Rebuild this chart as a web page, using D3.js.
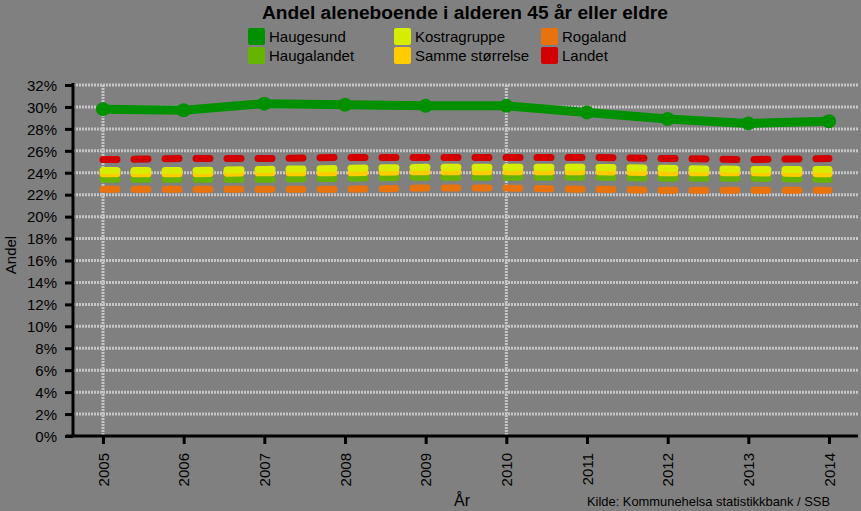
<!DOCTYPE html>
<html><head><meta charset="utf-8">
<script src="https://cdn.jsdelivr.net/npm/d3@7"></script>
<style>
html,body{margin:0;padding:0;background:#808080;}
svg text{font-family:Arial,"Liberation Sans",sans-serif;fill:#000;}
</style></head>
<body>
<svg id="chart" width="861" height="511"></svg>
<script>
const years = [2005,2006,2007,2008,2009,2010,2011,2012,2013,2014];
const haugesund   = [29.8,29.7,30.3,30.2,30.1,30.1,29.5,28.9,28.5,28.7];
const haugalandet = [23.4,23.4,23.4,23.5,23.6,23.6,23.6,23.5,23.5,23.4];
const kostragruppe= [24.2,24.2,24.3,24.4,24.5,24.5,24.5,24.4,24.3,24.3];
const sammeStr    = [23.9,23.9,24.0,24.0,24.1,24.1,24.1,24.0,24.0,23.9];
const rogaland    = [22.5,22.5,22.5,22.5,22.6,22.6,22.5,22.4,22.4,22.4];
const landet      = [25.2,25.3,25.3,25.4,25.4,25.4,25.4,25.3,25.2,25.3];
const yTicks = [0,2,4,6,8,10,12,14,16,18,20,22,24,26,28,30,32];

const series = [
  {name:"Haugesund", values:haugesund, color:"#009000", solid:true},
  {name:"Haugalandet", values:haugalandet, color:"#66b300"},
  {name:"Rogaland", values:rogaland, color:"#e8720c"},
  {name:"Samme størrelse", values:sammeStr, color:"#ffcc00"},
  {name:"Kostragruppe", values:kostragruppe, color:"#d6ec00"},
  {name:"Landet", values:landet, color:"#d20000"}
];
const legendOrder = [
  {name:"Haugesund", color:"#009000", col:0,row:0},
  {name:"Haugalandet", color:"#66b300", col:0,row:1},
  {name:"Kostragruppe", color:"#d6ec00", col:1,row:0},
  {name:"Samme størrelse", color:"#ffcc00", col:1,row:1},
  {name:"Rogaland", color:"#e8720c", col:2,row:0},
  {name:"Landet", color:"#d20000", col:2,row:1}
];

const svg = d3.select("#chart");
const plot = {left:73, right:858, top:85, bottom:436};

const x = d3.scalePoint().domain(years).range([103,829]);
const y = d3.scaleLinear().domain([0,32]).range([plot.bottom, plot.top]);

// gridlines
const gridColor = "#c6c6c6";
svg.append("g").selectAll("line").data(yTicks.filter(d=>d>0)).join("line")
  .attr("x1",plot.left).attr("x2",plot.right)
  .attr("y1",d=>y(d)).attr("y2",d=>y(d))
  .attr("stroke",gridColor).attr("stroke-width",3).attr("stroke-dasharray","2,1");
svg.append("g").selectAll("line").data([2005,2010]).join("line")
  .attr("x1",d=>x(d)).attr("x2",d=>x(d))
  .attr("y1",plot.top).attr("y2",plot.bottom)
  .attr("stroke",gridColor).attr("stroke-width",3).attr("stroke-dasharray","2,1");

// axes
const yAxis = svg.append("g").attr("transform",`translate(${plot.left},0)`)
  .call(d3.axisLeft(y).tickValues(yTicks).tickFormat(d=>d+"%").tickSize(8).tickPadding(8));
const xAxis = svg.append("g").attr("transform",`translate(0,${plot.bottom})`)
  .call(d3.axisBottom(x).tickSize(8).tickPadding(0));
[yAxis,xAxis].forEach(a=>{
  a.select(".domain").remove();
  a.selectAll(".tick line").attr("stroke","#000").attr("stroke-width",3);
  a.selectAll("text").attr("font-size",15).attr("fill","#000");
});
yAxis.selectAll("text").attr("dy","0.35em");
xAxis.selectAll("text")
  .attr("transform","rotate(-90)")
  .attr("text-anchor","end")
  .attr("x",-17).attr("y",0).attr("dy","0.35em");
svg.append("line").attr("x1",plot.left).attr("x2",plot.left)
  .attr("y1",plot.top-2).attr("y2",plot.bottom).attr("stroke","#000").attr("stroke-width",3);
svg.append("line").attr("x1",66).attr("x2",plot.right)
  .attr("y1",plot.bottom).attr("y2",plot.bottom).attr("stroke","#000").attr("stroke-width",3);

// lines
const line = d3.line().x((d,i)=>x(years[i])).y(d=>y(d));
series.filter(s=>!s.solid).forEach(s=>{
  svg.append("path").datum(s.values).attr("d",line)
    .attr("fill","none").attr("stroke",s.color).attr("stroke-width",7)
    .attr("stroke-linecap","round").attr("stroke-dasharray","14,17");
});
const hs = series[0];
svg.append("path").datum(hs.values).attr("d",line)
  .attr("fill","none").attr("stroke",hs.color).attr("stroke-width",9).attr("stroke-linejoin","round");
svg.append("g").selectAll("circle").data(hs.values).join("circle")
  .attr("cx",(d,i)=>x(years[i])).attr("cy",d=>y(d)).attr("r",7).attr("fill",hs.color);

// title
svg.append("text").attr("x",465).attr("y",19).attr("text-anchor","middle")
  .attr("font-size",18).attr("font-weight","bold")
  .attr("textLength",406).attr("lengthAdjust","spacingAndGlyphs")
  .text("Andel aleneboende i alderen 45 år eller eldre");

// legend
const colX = [248,394,541];
const lg = svg.append("g").selectAll("g").data(legendOrder).join("g")
  .attr("transform",d=>`translate(${colX[d.col]},${28+d.row*19})`);
lg.append("rect").attr("width",17).attr("height",17).attr("rx",2).attr("fill",d=>d.color);
lg.append("text").attr("x",21).attr("y",14).attr("font-size",15).text(d=>d.name);

// axis titles
svg.append("text").attr("transform","translate(16,255) rotate(-90)").attr("text-anchor","middle")
  .attr("font-size",15).text("Andel");
svg.append("text").attr("x",462).attr("y",506).attr("text-anchor","middle").attr("font-size",16).text("År");
svg.append("text").attr("x",587).attr("y",506).attr("font-size",13)
  .attr("textLength",243).attr("lengthAdjust","spacingAndGlyphs")
  .text("Kilde: Kommunehelsa statistikkbank / SSB");
</script>
</body></html>
